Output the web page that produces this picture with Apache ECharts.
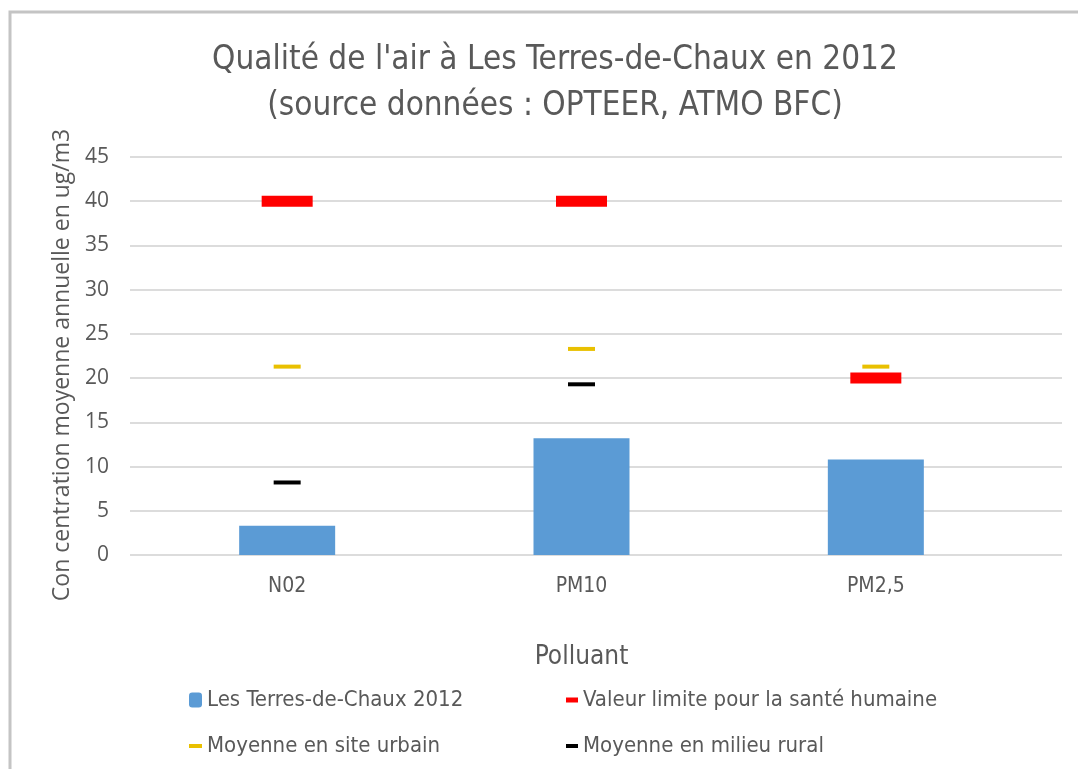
<!DOCTYPE html>
<html>
<head>
<meta charset="utf-8">
<script src="https://cdn.jsdelivr.net/npm/echarts@6/dist/echarts.min.js"></script>
<style>
  html, body { margin: 0; padding: 0; background: #ffffff; }
  #chart { width: 1078px; height: 769px; }
</style>
</head>
<body>
<div id="chart"></div>
<script>
// Polluants mesurés
const categories = ['N02', 'PM10', 'PM2,5'];
// Concentrations annuelles moyennes (ug/m3)
const terresChaux2012 = [3.3, 13.2, 10.8];
const valeurLimite = [40, 40, 20];
const moyenneUrbain = [21.3, 23.3, 21.3];
const moyenneRural = [8.2, 19.3, null];
// Graduations de l'axe des concentrations
const yMin = 0, yMax = 45, yStep = 5;

const narrow = "'Liberation Sans Narrow', 'DejaVu Sans Condensed', sans-serif";
const wide = "'Open Sans', 'Noto Sans', sans-serif";
const grey = '#595959';

const chart = echarts.init(document.getElementById('chart'), null, { renderer: 'canvas' });

const legendText = { color: grey, fontFamily: narrow, fontSize: 22 };

chart.setOption({
  animation: false,
  backgroundColor: '#ffffff',
  graphic: [{
    type: 'rect',
    shape: { x: 10, y: 12, width: 1100, height: 800 },
    style: { fill: null, stroke: '#c4c4c4', lineWidth: 3 },
    silent: true
  }],
  title: {
    text: "Qualité de l'air à Les Terres-de-Chaux en 2012\n(source données : OPTEER, ATMO BFC)",
    left: 550,
    top: 32,
    textAlign: 'center',
    textStyle: { color: grey, fontFamily: narrow, fontSize: 33, fontWeight: 'normal', lineHeight: 46 }
  },
  legend: [
    { data: ['Les Terres-de-Chaux 2012'], left: 184, top: 684, itemWidth: 13, itemHeight: 15, itemGap: 5, textStyle: legendText, selectedMode: false },
    { data: ['Valeur limite pour la santé humaine'], left: 561, top: 684, itemWidth: 12, itemHeight: 5, textStyle: legendText, selectedMode: false },
    { data: ['Moyenne en site urbain'], left: 184, top: 730, itemWidth: 13, itemHeight: 4, textStyle: legendText, selectedMode: false },
    { data: ['Moyenne en milieu rural'], left: 561, top: 730, itemWidth: 12, itemHeight: 4, textStyle: legendText, selectedMode: false }
  ],
  grid: [
    { left: 130, right: 16, top: 157, bottom: 214 },
    { left: 140, right: 55, top: 157, bottom: 214 }
  ],
  xAxis: [
    { gridIndex: 0, type: 'category', data: categories, show: false },
    {
      gridIndex: 1, type: 'category', data: categories,
      axisLine: { show: false }, axisTick: { show: false },
      axisLabel: { color: grey, fontFamily: narrow, fontSize: 21, margin: 21 },
      name: 'Polluant', nameLocation: 'middle', nameGap: 89,
      nameTextStyle: { color: grey, fontFamily: narrow, fontSize: 26 }
    }
  ],
  yAxis: [
    {
      gridIndex: 0, type: 'value', min: yMin, max: yMax, interval: yStep,
      axisLine: { show: false }, axisTick: { show: false },
      axisLabel: { color: grey, fontFamily: wide, fontSize: 21, margin: 21 },
      splitLine: { lineStyle: { color: '#dcdcdc', width: 2 } },
      name: 'Con centration moyenne annuelle en ug/m3', nameLocation: 'middle', nameGap: 54,
      nameTextStyle: { color: grey, fontFamily: wide, fontSize: 23, padding: [0, 18, 0, 0] }
    },
    { gridIndex: 1, type: 'value', min: yMin, max: yMax, interval: yStep, show: false, splitLine: { show: false } }
  ],
  series: [
    {
      name: 'Les Terres-de-Chaux 2012', type: 'bar', xAxisIndex: 1, yAxisIndex: 1,
      data: terresChaux2012, barWidth: 96, itemStyle: { color: '#5b9bd5' }
    },
    {
      name: 'Valeur limite pour la santé humaine', type: 'scatter', xAxisIndex: 1, yAxisIndex: 1,
      data: valeurLimite, symbol: 'rect', symbolSize: [51, 11], itemStyle: { color: '#ff0000', opacity: 1 }
    },
    {
      name: 'Moyenne en site urbain', type: 'scatter', xAxisIndex: 1, yAxisIndex: 1,
      data: moyenneUrbain, symbol: 'rect', symbolSize: [27, 4], itemStyle: { color: '#e9c000', opacity: 1 }
    },
    {
      name: 'Moyenne en milieu rural', type: 'scatter', xAxisIndex: 1, yAxisIndex: 1,
      data: moyenneRural, symbol: 'rect', symbolSize: [27, 4], itemStyle: { color: '#000000', opacity: 1 }
    }
  ]
});
</script>
</body>
</html>
